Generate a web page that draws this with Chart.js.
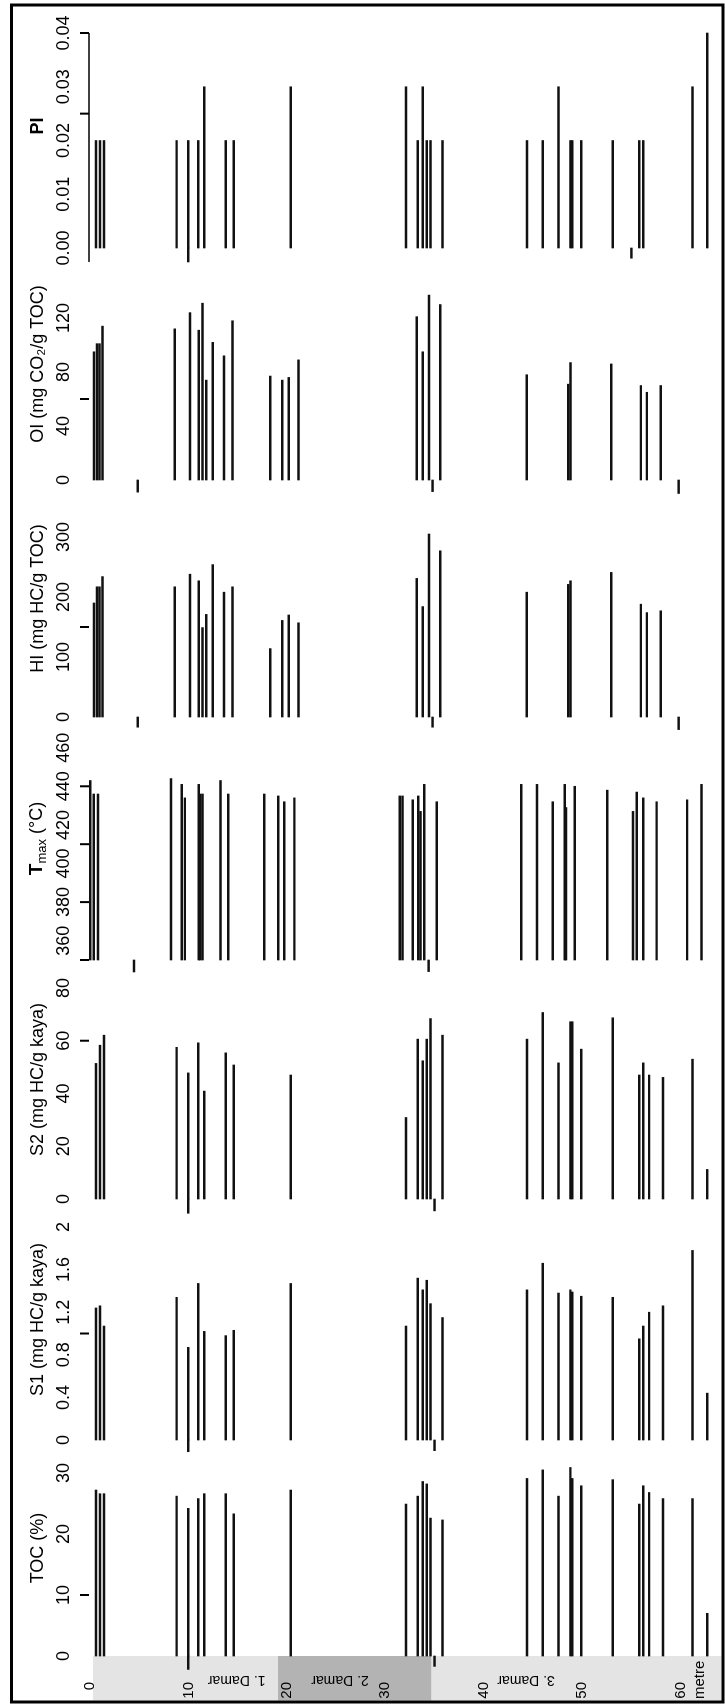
<!DOCTYPE html>
<html>
<head>
<meta charset="utf-8">
<script src="https://cdn.jsdelivr.net/npm/chart.js@4.4.1/dist/chart.umd.min.js"></script>
<style>
  html, body { margin: 0; padding: 0; background: #fff; }
  #page { position: relative; width: 725px; height: 1705px; overflow: hidden; background: #fff; }
  /* the log is laid out with depth running down, then turned a quarter to the left */
  #log { position: absolute; left: 0; top: 0; width: 1705px; height: 725px;
         transform-origin: 0 0; transform: translate(0, 1705px) rotate(-90deg); }
</style>
</head>
<body>
<div id="page"><canvas id="log" width="1705" height="725"></canvas></div>
<script>
// ---- sample depths (m) measured for TOC, S1, S2 and PI ----
const depthsMain = [0.61, 1.02, 1.42, 8.80, 9.98, 11.0, 11.6, 13.8, 14.6, 20.4,
  32.1, 33.3, 33.8, 34.2, 34.6, 35.8, 44.4, 46.0, 47.6, 48.8, 49.0, 49.9, 53.1,
  55.8, 56.2, 56.8, 58.2, 61.2, 62.7];
const tocValues = [27.2, 26.6, 26.6, 26.2, 24.2, 25.8, 26.6, 26.6, 23.3, 27.2,
  24.9, 26.2, 28.6, 28.2, 22.6, 22.3, 29.1, 30.5, 26.2, 30.9, 29.1, 27.9, 28.9,
  24.9, 27.9, 26.8, 25.8, 25.8, 7.0];
const s1Values = [1.24, 1.26, 1.07, 1.34, 0.87, 1.47, 1.02, 0.98, 1.03, 1.47,
  1.07, 1.52, 1.41, 1.50, 1.28, 1.15, 1.41, 1.66, 1.38, 1.41, 1.39, 1.35, 1.34,
  0.95, 1.07, 1.20, 1.26, 1.78, 0.44];
const s2Values = [51.4, 58.3, 62.1, 57.5, 47.8, 59.2, 40.9, 55.4, 50.8, 47.0,
  30.9, 60.6, 52.4, 60.6, 68.4, 62.1, 60.6, 70.7, 51.6, 67.2, 67.2, 56.8, 68.7,
  47.0, 51.6, 47.0, 46.1, 53.0, 11.2];
const piValues = [0.02, 0.02, 0.02, 0.02, 0.02, 0.02, 0.03, 0.02, 0.02, 0.03,
  0.03, 0.02, 0.03, 0.02, 0.02, 0.02, 0.02, 0.02, 0.03, 0.02, 0.02, 0.02, 0.02,
  0.02, 0.02, null, null, 0.03, 0.04];

// ---- Tmax samples ----
const depthsTmax = [0.02, 0.39, 0.81, 8.23, 9.31, 9.64, 11.05, 11.19, 11.42, 13.25,
  14.05, 17.71, 19.12, 19.73, 20.76, 31.46, 31.74, 32.78, 33.34, 33.57, 33.95,
  35.22, 43.81, 45.40, 47.0, 48.22, 48.36, 49.25, 52.54, 55.17, 55.54, 56.2,
  57.56, 60.66, 62.11];
const tmaxValues = [443, 436, 436, 444, 441, 434, 441, 436, 436, 443, 436, 436,
  435, 432, 434, 435, 435, 433, 435, 427, 441, 432, 441, 441, 432, 441, 429, 440,
  438, 427, 437, 434, 432, 433, 441];

// ---- HI / OI samples ----
const depthsHiOi = [0.40, 0.72, 0.96, 1.28, 8.61, 10.15, 11.05, 11.42, 11.80, 12.46,
  13.62, 14.47, 18.32, 19.54, 20.20, 21.19, 33.20, 33.81, 34.43, 35.59, 44.37,
  48.59, 48.82, 52.96, 55.96, 56.57, 57.98];
const hiValues = [190, 217, 217, 234, 217, 238, 227, 149, 171, 254, 208, 217, 114,
  161, 170, 157, 231, 184, 305, 277, 208, 221, 227, 241, 188, 174, 177];
const oiValues = [95, 101, 101, 114, 112, 124, 111, 131, 74, 102, 92, 118, 77, 74,
  76, 89, 121, 95, 137, 130, 78, 71, 87, 86, 70, 65, 70];

// ---- short strokes that fall below each track's origin ----
const mainStubDepths = [9.98, 35.0];
const tocStubValues = [-2.2, -1.7];
const s1StubValues = [-0.11, -0.10];
const s2StubValues = [-5.4, -4.5];
const piStubDepths = [9.98, 55.0];
const piStubValues = [-0.0026, -0.0019];
const tmaxStubDepths = [4.47, 34.4];
const tmaxStubValues = [343.8, 344.0];
const hiOiStubDepths = [4.85, 34.8, 59.8];
const hiStubValues = [-17, -17, -21];
const oiStubValues = [-9, -8.6, -10];

// ---- axis ticks ----
const depthTicks = [0, 10, 20, 30, 40, 50, 60];
const tocTicks = [0, 10, 20, 30];
const s1Ticks = [0, 0.4, 0.8, 1.2, 1.6, 2];
const s1TickLabels = ['0', '0.4', '0.8', '1.2', '1.6', '2'];
const s2Ticks = [0, 20, 40, 60, 80];
const tmaxTicks = [360, 380, 400, 420, 440, 460];
const hiTicks = [0, 100, 200, 300];
const oiTicks = [0, 40, 80, 120];
const piTicks = [0, 0.01, 0.02, 0.03, 0.04];
const piTickLabels = ['0.00', '0.01', '0.02', '0.03', '0.04'];

// small axis marks on each track
const tocMarks = [10];
const s1Marks = [1.0];
const s2Marks = [60];
const tmaxMarks = [350, 380, 410, 440];
const hiMarks = [150];
const oiMarks = [60];
const piMarks = [0.025, 0.04];
const piAxisSpan = [-0.0026, 0.04];

// formation intervals along the depth column
const unitNames = ['1. Damar', '2. Damar', '3. Damar'];
const unitTops = [0.3, 19.1, 34.7];
const unitBases = [19.1, 34.7, 66];
const unitLabelDepths = [14.9, 25.4, 44.3];

// ---- layout of the seven tracks (left to right) ----
const FONT = "'Liberation Sans', Arial, Helvetica, sans-serif";
const tracks = [
  { id: 'toc',  title: 'TOC (%)',            min: 0,   max: 35.4,   weight: 216, ticks: tocTicks,  labels: null,         marks: tocMarks },
  { id: 's1',   title: 'S1 (mg HC/g kaya)',  min: 0,   max: 2.263,  weight: 241, ticks: s1Ticks,   labels: s1TickLabels, marks: s1Marks },
  { id: 's2',   title: 'S2 (mg HC/g kaya)',  min: 0,   max: 90.6,   weight: 239, ticks: s2Ticks,   labels: null,         marks: s2Marks },
  { id: 'tmax', title: null,                 min: 350, max: 475.9,  weight: 243, ticks: tmaxTicks, labels: null,         marks: tmaxMarks },
  { id: 'hi',   title: 'HI (mg HC/g TOC)',   min: 0,   max: 395,    weight: 237, ticks: hiTicks,   labels: null,         marks: hiMarks },
  { id: 'oi',   title: 'OI (mg CO\u2082/g TOC)', min: 0, max: 171.9, weight: 232, ticks: oiTicks,  labels: null,         marks: oiMarks },
  { id: 'pi',   title: 'PI', bold: true,     min: 0,   max: 0.0454, weight: 244, ticks: piTicks,   labels: piTickLabels, marks: piMarks }
];

Chart.defaults.font.family = FONT;
Chart.defaults.color = '#000';

// keep label overhang from shrinking the plotting area
function noOverhang(s) {
  s.paddingLeft = 0; s.paddingRight = 0; s.paddingTop = 0; s.paddingBottom = 0;
}

const scales = {
  y: {
    type: 'linear', position: 'left', reverse: true, offset: false, min: 0, max: 64,
    afterBuildTicks: s => { s.ticks = depthTicks.map(v => ({ value: v })); },
    afterFit: s => { s.width = 45; noOverhang(s); },
    grid: { display: false, drawTicks: false, offset: false }, border: { display: false },
    ticks: { autoSkip: false, padding: 26, font: { size: 15 }, color: '#000' }
  }
};
// top boxes are stacked in reverse registration order, so register right to left
tracks.slice().reverse().forEach(t => {
  scales[t.id] = {
    type: 'linear', position: 'top', stack: 'tracks', stackWeight: t.weight,
    min: t.min, max: t.max, offset: false,
    afterBuildTicks: s => { s.ticks = t.ticks.map(v => ({ value: v })); },
    afterFit: s => { s.height = 86; noOverhang(s); },
    grid: { display: false, drawTicks: false }, border: { display: false },
    ticks: {
      autoSkip: false, minRotation: 0, maxRotation: 0, padding: 15,
      font: { size: 18 }, color: '#000',
      callback: (v, i) => t.labels ? t.labels[i] : String(v)
    },
    title: {
      display: t.title !== null, text: t.title || '', color: '#000',
      font: { size: 18, weight: t.bold ? 'bold' : 'normal' },
      padding: { top: 23, bottom: 0 }
    }
  };
});

// bars grow from each track's own origin (its axis minimum)
function barSet(axis, depths, values) {
  const track = tracks.find(t => t.id === axis);
  return {
    type: 'bar', xAxisID: axis, yAxisID: 'y', base: track.min,
    data: depths.map((d, i) => ({ x: values[i], y: d })).filter(p => p.x !== null),
    backgroundColor: '#111', borderWidth: 0, barThickness: 1.8,
    grouped: false, clip: false
  };
}
function stubSet(axis, depths, ends) {
  const track = tracks.find(t => t.id === axis);
  return {
    type: 'bar', xAxisID: axis, yAxisID: 'y',
    data: depths.map((d, i) => ({ x: [ends[i], track.min], y: d })),
    backgroundColor: '#111', borderWidth: 0, barThickness: 1.8,
    grouped: false, clip: false
  };
}

const datasets = [
  barSet('toc', depthsMain, tocValues),
  barSet('s1', depthsMain, s1Values),
  barSet('s2', depthsMain, s2Values),
  barSet('tmax', depthsTmax, tmaxValues),
  barSet('hi', depthsHiOi, hiValues),
  barSet('oi', depthsHiOi, oiValues),
  barSet('pi', depthsMain, piValues),
  stubSet('toc', mainStubDepths, tocStubValues),
  stubSet('s1', mainStubDepths, s1StubValues),
  stubSet('s2', mainStubDepths, s2StubValues),
  stubSet('tmax', tmaxStubDepths, tmaxStubValues),
  stubSet('hi', hiOiStubDepths, hiStubValues),
  stubSet('oi', hiOiStubDepths, oiStubValues),
  stubSet('pi', piStubDepths, piStubValues)
];

// outer frame, formation column, track marks and the Tmax heading
const FRAME = { left: 3, top: 11.5, right: 1700, bottom: 723 };
const decor = {
  id: 'decor',
  beforeDraw(chart) {
    const { ctx, chartArea } = chart;
    const dy = chart.scales.y;
    ctx.save();
    unitNames.forEach((name, i) => {
      const y0 = Math.max(FRAME.top, dy.getPixelForValue(unitTops[i]));
      const y1 = Math.min(FRAME.bottom - 1.5, dy.getPixelForValue(unitBases[i]));
      ctx.fillStyle = i === 1 ? '#b3b3b3' : '#e4e4e4';
      ctx.fillRect(FRAME.left + 1.5, y0, chartArea.left - FRAME.left - 1.5, y1 - y0);
    });
    ctx.restore();
  },
  afterDraw(chart) {
    const { ctx, chartArea } = chart;
    const dy = chart.scales.y;
    ctx.save();
    ctx.strokeStyle = '#000';
    ctx.fillStyle = '#000';

    // small marks above each track
    ctx.lineWidth = 2;
    tracks.forEach(t => {
      const sc = chart.scales[t.id];
      t.marks.forEach(v => {
        const x = sc.getPixelForValue(v);
        ctx.beginPath();
        ctx.moveTo(x, chartArea.top - 10);
        ctx.lineTo(x, chartArea.top - 1);
        ctx.stroke();
      });
    });
    // PI axis line
    const pi = chart.scales.pi;
    ctx.lineWidth = 1.6;
    ctx.beginPath();
    ctx.moveTo(pi.getPixelForValue(piAxisSpan[0]), chartArea.top - 1);
    ctx.lineTo(pi.getPixelForValue(piAxisSpan[1]), chartArea.top - 1);
    ctx.stroke();

    // Tmax heading with subscript
    const tm = chart.scales.tmax;
    const cx = (tm.left + tm.right) / 2;
    const base = 42;
    ctx.textBaseline = 'alphabetic';
    ctx.textAlign = 'left';
    ctx.font = 'bold 19px ' + FONT;
    const wT = ctx.measureText('T').width;
    ctx.font = '13px ' + FONT;
    const wM = ctx.measureText('max').width;
    ctx.font = '18px ' + FONT;
    const wR = ctx.measureText(' (\u00B0C)').width;
    let x = cx - (wT + wM + wR) / 2;
    ctx.font = 'bold 19px ' + FONT;
    ctx.fillText('T', x, base); x += wT;
    ctx.font = '13px ' + FONT;
    ctx.fillText('max', x, base + 4); x += wM;
    ctx.font = '18px ' + FONT;
    ctx.fillText(' (\u00B0C)', x, base);

    // unit names in the depth column
    ctx.font = '14px ' + FONT;
    ctx.textAlign = 'center';
    ctx.textBaseline = 'middle';
    unitNames.forEach((name, i) => {
      ctx.save();
      ctx.translate(25, dy.getPixelForValue(unitLabelDepths[i]));
      ctx.rotate(-Math.PI / 2);
      ctx.fillText(name, 0, 0);
      ctx.restore();
    });

    // depth unit
    ctx.font = '15px ' + FONT;
    ctx.textAlign = 'left';
    ctx.fillText('metre', FRAME.left + 3, dy.getPixelForValue(60) + 19);

    // frame
    ctx.lineWidth = 3;
    ctx.strokeRect(FRAME.left, FRAME.top, FRAME.right - FRAME.left, FRAME.bottom - FRAME.top);
    ctx.restore();
  }
};

new Chart(document.getElementById('log'), {
  type: 'bar',
  data: { datasets },
  options: {
    indexAxis: 'y',
    responsive: false,
    animation: false,
    devicePixelRatio: 1,
    layout: { autoPadding: false, padding: { left: 4, right: 4, top: 4, bottom: 5 } },
    plugins: { legend: { display: false }, tooltip: { enabled: false } },
    scales
  },
  plugins: [decor]
});
</script>
</body>
</html>
